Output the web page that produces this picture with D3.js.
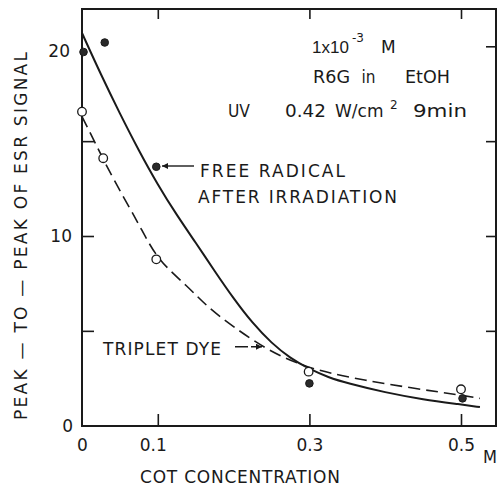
<!DOCTYPE html>
<html>
<head>
<meta charset="utf-8">
<script src="https://cdn.jsdelivr.net/npm/d3@7"></script>
<style>
  html, body { margin: 0; padding: 0; background: #fff; }
  svg { display: block; }
  text { font-family: "DejaVu Sans", "Liberation Sans", sans-serif; fill: #1a1a1a; }
</style>
</head>
<body>
<svg id="chart" width="497" height="486"></svg>
<script>
// ---- data ----
const xTickValues = [0, 0.1, 0.3, 0.5];
const xTickLabels = ["0", "0.1", "0.3", "0.5"];
const yTickValues = [0, 5, 10, 15, 20];
const yTickLabels = ["0", "", "10", "", "20"];

// Free radical after irradiation (filled circles)
const radicalX = [0.002, 0.030, 0.098, 0.300, 0.502];
const radicalY = [19.7, 20.2, 13.65, 2.23, 1.44];
// Triplet dye (open circles)
const tripletX = [0.000, 0.028, 0.098, 0.299, 0.500];
const tripletY = [16.55, 14.1, 8.77, 2.85, 1.92];

// Fitted curves
const radicalFitX = [0, 0.025, 0.05, 0.075, 0.1, 0.125, 0.15, 0.175, 0.2, 0.225, 0.25, 0.275, 0.3, 0.325, 0.35, 0.4, 0.45, 0.5, 0.525];
const radicalFitY = [20.7, 18.5, 16.45, 14.5, 12.7, 11.1, 9.65, 8.15, 6.7, 5.4, 4.35, 3.55, 2.98, 2.55, 2.24, 1.75, 1.38, 1.12, 0.98];
const tripletFitX = [0, 0.015, 0.041, 0.077, 0.099, 0.140, 0.165, 0.200, 0.244, 0.288, 0.327, 0.371, 0.437, 0.499, 0.525];
const tripletFitY = [16.3, 15.1, 13.0, 10.5, 8.75, 7.33, 6.27, 5.2, 4.0, 3.2, 2.76, 2.41, 1.97, 1.62, 1.44];

// ---- layout ----
const svg = d3.select("#chart");
const frame = { left: 82, right: 496, top: 9, bottom: 426 };
const x = d3.scaleLinear().domain([0, 0.5]).range([82, 461]);
const y = d3.scaleLinear().domain([0, 20]).range([425.7, 46.3]);
const ink = "#1a1a1a";

// frame
svg.append("path")
  .attr("d", `M${frame.right},${frame.top} L${frame.left},${frame.top} L${frame.left},${frame.bottom} L${frame.right},${frame.bottom} Z`)
  .attr("fill", "none").attr("stroke", ink).attr("stroke-width", 2);

function styleAxis(g) {
  g.select(".domain").remove();
  g.selectAll(".tick line").attr("stroke", ink).attr("stroke-width", 1.6);
  g.selectAll(".tick text").attr("font-size", 17).attr("fill", ink)
    .style("font-family", '"DejaVu Sans", "Liberation Sans", sans-serif');
}

// bottom axis (ticks inward, labels)
svg.append("g").attr("transform", `translate(0,${frame.bottom})`)
  .call(d3.axisBottom(x).tickValues(xTickValues)
    .tickFormat((d, i) => xTickLabels[i]).tickSizeInner(-12).tickSizeOuter(0).tickPadding(13))
  .call(styleAxis)
  .call(g => g.selectAll(".tick").filter(d => d === 0).select("line").remove())
  .call(g => g.selectAll(".tick").filter(d => d === 0.1).select("text").attr("dx", -5));

// top axis (ticks inward only)
svg.append("g").attr("transform", `translate(0,${frame.top})`)
  .call(d3.axisTop(x).tickValues(xTickValues.slice(1)).tickFormat("").tickSizeInner(-10).tickSizeOuter(0))
  .call(styleAxis);

// left axis
svg.append("g").attr("transform", `translate(${frame.left},0)`)
  .call(d3.axisLeft(y).tickValues(yTickValues)
    .tickFormat((d, i) => yTickLabels[i]).tickSizeInner(-12).tickSizeOuter(0).tickPadding(10))
  .call(styleAxis)
  .call(g => g.selectAll(".tick").filter(d => d === 0 || d === 20).select("line").remove())
  .call(g => g.selectAll(".tick").filter(d => d === 20).select("text").attr("dy", "0.32em").attr("y", 5).attr("x", -12))
  .call(g => g.selectAll(".tick").filter(d => d === 0).select("text").attr("x", -9));

// right axis
svg.append("g").attr("transform", `translate(${frame.right},0)`)
  .call(d3.axisRight(y).tickValues(yTickValues.slice(1)).tickFormat("").tickSizeInner(-10).tickSizeOuter(0))
  .call(styleAxis);

// curves
const radicalFit = radicalFitX.map((v, i) => [v, radicalFitY[i]]);
const tripletFit = tripletFitX.map((v, i) => [v, tripletFitY[i]]);
const line = d3.line().x(d => x(d[0])).y(d => y(d[1])).curve(d3.curveBasis);

svg.append("path").datum(tripletFit).attr("d", line)
  .attr("fill", "none").attr("stroke", ink).attr("stroke-width", 1.6).attr("stroke-dasharray", "12,6");
svg.append("path").datum(radicalFit).attr("d", line)
  .attr("fill", "none").attr("stroke", ink).attr("stroke-width", 2);

// points
const tripletPts = tripletX.map((v, i) => [v, tripletY[i]]);
const radicalPts = radicalX.map((v, i) => [v, radicalY[i]]);
svg.append("g").selectAll("circle").data(tripletPts).join("circle")
  .attr("cx", d => x(d[0])).attr("cy", d => y(d[1])).attr("r", 4.3)
  .attr("fill", "#fff").attr("stroke", ink).attr("stroke-width", 1.3);
svg.append("g").selectAll("circle").data(radicalPts).join("circle")
  .attr("cx", d => x(d[0])).attr("cy", d => y(d[1])).attr("r", 3.8)
  .attr("fill", "#2a2a2a").attr("stroke", ink).attr("stroke-width", 1);

// arrow markers
const defs = svg.append("defs");
defs.append("marker").attr("id", "arr").attr("viewBox", "0 0 10 10")
  .attr("refX", 10).attr("refY", 5).attr("markerWidth", 8).attr("markerHeight", 6)
  .attr("markerUnits", "userSpaceOnUse").attr("orient", "auto")
  .append("path").attr("d", "M0,0 L10,5 L0,10 Z").attr("fill", ink);

svg.append("line").attr("x1", 194).attr("y1", 166).attr("x2", 162).attr("y2", 166)
  .attr("stroke", ink).attr("stroke-width", 1.4).attr("marker-end", "url(#arr)");
svg.append("line").attr("x1", 235).attr("y1", 346.7).attr("x2", 262).attr("y2", 346.7)
  .attr("stroke", ink).attr("stroke-width", 1.4).attr("stroke-dasharray", "13,3").attr("marker-end", "url(#arr)");

// text helper
function label(txt, xPos, yPos, size, len, adjust) {
  const t = svg.append("text").attr("x", xPos).attr("y", yPos).attr("font-size", size).text(txt);
  if (len) t.attr("textLength", len).attr("lengthAdjust", adjust || "spacingAndGlyphs");
  return t;
}

// annotation block
label("1x10", 312, 53.3, 17).style("font-family", '"Liberation Sans", sans-serif');
label("-3", 352, 42, 12);
label("M", 381, 53.3, 17);

label("R6G", 313, 83.3, 17, 37);
label("in", 361.5, 83.3, 17, 14);
label("EtOH", 405, 83.3, 17, 45);
label("UV", 228, 116.7, 17, 22);
label("0.42", 285, 116.7, 17, 41);
label("W/cm", 335, 116.7, 17);
label("2", 390, 109, 12);
label("9min", 413, 116.7, 17, 54);

label("FREE RADICAL", 200, 176.7, 17, 145, "spacing");
label("AFTER IRRADIATION", 198, 203.3, 17, 199, "spacing");
label("TRIPLET DYE", 103, 355, 17, 118, "spacing");

// axis titles
label("COT CONCENTRATION", 140, 483.3, 17, 200, "spacing");
label("M", 483, 463.3, 17, 14);
svg.append("text").attr("transform", "translate(27,236) rotate(-90)")
  .attr("text-anchor", "middle").attr("font-size", 17)
  .attr("textLength", 368).attr("lengthAdjust", "spacing")
  .text("PEAK \u2014 TO \u2014 PEAK  OF  ESR  SIGNAL");
</script>
</body>
</html>
